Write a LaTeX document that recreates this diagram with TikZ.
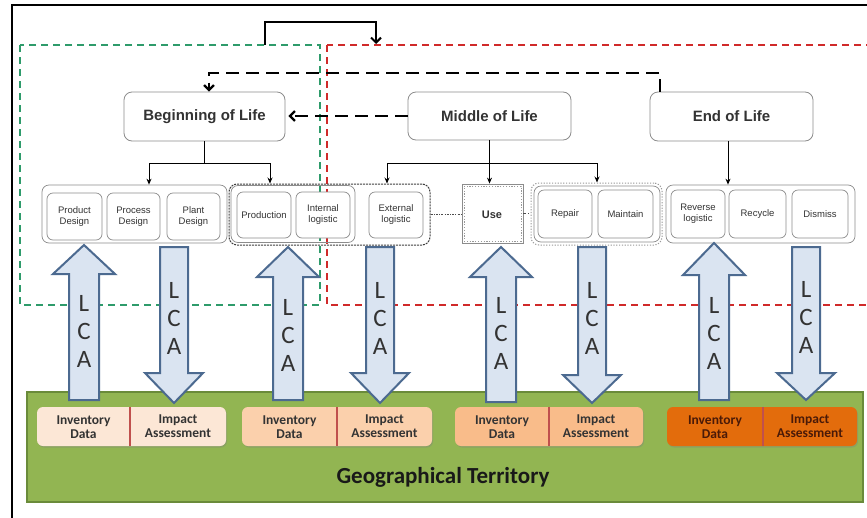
\documentclass[tikz,border=0pt]{standalone}
\usepackage{fontspec}
\setmainfont{Liberation Sans}
\newfontfamily\calfont{Carlito}
\usetikzlibrary{arrows.meta,shadows}
\definecolor{txtgray}{HTML}{333333}
\definecolor{boxgray}{HTML}{8C8C8C}
\definecolor{lcafill}{HTML}{DAE4F1}
\definecolor{lcaline}{HTML}{4C6A90}
\definecolor{terrfill}{HTML}{92B552}
\definecolor{terrline}{HTML}{6A8B3A}
\definecolor{peachA}{HTML}{FCE7D6}
\definecolor{peachB}{HTML}{FBD0AC}
\definecolor{peachC}{HTML}{F9BC8A}
\definecolor{orangeD}{HTML}{E36C0C}
\definecolor{divred}{HTML}{C0504D}
\definecolor{regiongreen}{HTML}{2E9B6B}
\definecolor{regionred}{HTML}{D02A2A}
\definecolor{maroon}{HTML}{4A1A08}
\newcommand\lcaup[4]{\draw[lca] (#1-15,#4) -- (#1-15,#3) -- (#1-31,#3) -- (#1,#2) -- (#1+31,#3) -- (#1+15,#3) -- (#1+15,#4) -- cycle;}
\newcommand\lcadown[4]{\draw[lca] (#1-14,#2) -- (#1-14,#3) -- (#1-29,#3) -- (#1,#4) -- (#1+29,#3) -- (#1+14,#3) -- (#1+14,#2) -- cycle;}
\begin{document}
\begin{tikzpicture}[x=1pt,y=-1pt,
  phase/.style={draw=boxgray, rounded corners=8pt, line width=0.8pt, fill=white, text=txtgray,
    font=\fontsize{15}{18}\selectfont\bfseries, inner sep=0pt},
  sub/.style={draw=boxgray, rounded corners=6pt, line width=0.7pt, fill=white, text=txtgray,
    font=\fontsize{9.5}{11}\selectfont, align=center, inner sep=0pt},
  grp/.style={draw=boxgray, rounded corners=7pt, line width=0.7pt, inner sep=0pt},
  dgrp/.style={draw=black!75, dash pattern=on 2pt off 1pt, rounded corners=8pt, line width=1pt, inner sep=0pt},
  ogrp/.style={draw=black!40, dash pattern=on 1.2pt off 1.6pt, rounded corners=8pt, line width=1pt, inner sep=0pt},
  arr/.style={draw=black, line width=0.9pt, -{Stealth[length=6pt,width=5pt]}},
  dasharr/.style={draw=black, line width=2.2pt, dash pattern=on 13pt off 7pt, -{Straight Barb[length=5pt,width=10pt]}},
  looparr/.style={draw=black, line width=2pt, -{Straight Barb[length=5pt,width=10pt]}},
  lca/.style={draw=lcaline, line width=2pt, fill=lcafill, line join=miter},
  lcatxt/.style={font=\calfont\fontsize{25}{28}\selectfont, text=txtgray, align=center, inner sep=0pt},
  dbox/.style={rounded corners=6pt, inner sep=0pt, drop shadow={opacity=0.35, shadow xshift=1pt, shadow yshift=-1.5pt}},
  dtxt/.style={font=\calfont\bfseries\fontsize{13.5}{14.5}\selectfont, text=txtgray, align=center, inner sep=0pt},
  divider/.style={draw=divred, line width=1.3pt}]
\clip (0,0) rectangle (867,517);
\fill[white] (0,0) rectangle (867,517);
% outer frame
\draw[line width=2pt] (12,525) -- (12,5) -- (875,5);
% regions
\draw[regiongreen, line width=1.4pt, dash pattern=on 7pt off 5pt] (20,45) rectangle (320,305);
\draw[regionred, line width=1.4pt, dash pattern=on 7pt off 5pt] (327,45) rectangle (880,305);
% top loop
\coordinate (gtop) at (265,45);
\coordinate (rtop) at (376,44);
\draw[looparr] (gtop) -- (265,22) -- (376,22) -- (rtop);
% territory
\node[draw=terrline, fill=terrfill, line width=1.2pt, minimum width=836pt, minimum height=110pt, inner sep=0pt] (terr) at (445,447) {};
\node[font=\calfont\bfseries\fontsize{23}{25}\selectfont, text=black!90] (geo) at (443,477) {Geographical Territory};
% phases
\node[phase, minimum width=161pt, minimum height=49pt] (bol) at (204.5,116.5) {Beginning of Life};
\node[phase, minimum width=163pt, minimum height=48pt] (mol) at (489.5,116) {Middle of Life};
\node[phase, minimum width=163pt, minimum height=49pt] (eol) at (731.5,116.5) {End of Life};
% groups
\node[grp, minimum width=185pt, minimum height=58pt] (g1) at (134.5,214) {};
\node[grp, minimum width=124pt, minimum height=57pt] (g2) at (293,214) {};
\node[dgrp, minimum width=201pt, minimum height=61pt] (g2d) at (329.5,214.5) {};
\node[draw=boxgray, line width=0.8pt, minimum width=61pt, minimum height=59pt, inner sep=0pt] (usebox) at (492.5,213.5) {};
\node[draw=black!40, dash pattern=on 1.2pt off 1.6pt, line width=1pt, minimum width=57pt, minimum height=55pt, inner sep=0pt] (usedot) at (492.5,213.5) {};
\node[grp, minimum width=126pt, minimum height=56pt] (g3) at (597,214) {};
\node[ogrp, minimum width=131pt, minimum height=62pt] (g3d) at (596.5,214) {};
\node[grp, minimum width=189pt, minimum height=58pt] (g4) at (760.5,214) {};
% sub boxes
\node[sub, minimum width=55pt, minimum height=47pt] (pd) at (74.5,216.5) {Product\\Design};
\node[sub, minimum width=53pt, minimum height=47pt] (prd) at (133.5,216.5) {Process\\Design};
\node[sub, minimum width=53pt, minimum height=47pt] (pld) at (193.5,216.5) {Plant\\Design};
\node[sub, minimum width=54pt, minimum height=46pt] (prod) at (264,215) {Production};
\node[sub, minimum width=54pt, minimum height=46pt] (intl) at (323,215) {Internal\\logistic};
\node[sub, minimum width=54pt, minimum height=46pt] (extl) at (396,215) {External\\logistic};
\node[text=txtgray, font=\fontsize{11}{13}\selectfont\bfseries] (use) at (492,215) {Use};
\node[sub, minimum width=54pt, minimum height=48pt] (rep) at (565,214) {Repair};
\node[sub, minimum width=55pt, minimum height=48pt] (mnt) at (625.5,214) {Maintain};
\node[sub, minimum width=54pt, minimum height=48pt] (rev) at (698,214) {Reverse\\logistic};
\node[sub, minimum width=57pt, minimum height=48pt] (rec) at (757.5,214) {Recycle};
\node[sub, minimum width=56pt, minimum height=48pt] (dis) at (820,214) {Dismiss};
% links between groups
\draw[draw=black!70, line width=1.1pt, dash pattern=on 2pt off 1.3pt on 0.8pt off 1.3pt] (g2d.east) -- (g2d.east -| usebox.west);
\draw[draw=black!70, line width=1.1pt, dash pattern=on 3pt off 2pt on 1pt off 2pt] (usebox.east) -- (usebox.east -| g3d.west);
% connectors
\draw[arr] (bol.south) -- ++(0,22) -| (149,0 |- g1.north);
\draw[arr] (bol.south) -- ++(0,22) -| (270,0 |- g2d.north);
\draw[arr] (mol.south) -- (mol.south |- usebox.north);
\draw[arr] (mol.south) -- ++(0,23) -| (387,0 |- g2d.north);
\draw[arr] (mol.south) -- ++(0,23) -| (597,0 |- g3d.north);
\draw[arr] ([xshift=-3.5pt]eol.south) -- ([xshift=-3.5pt]eol.south |- g4.north);
% dashed feedback
\draw[dasharr] ([xshift=-71.5pt]eol.north) -- ++(0,-19) -| ([xshift=4.5pt]bol.north);
\draw[dasharr, shorten >=3pt] (mol.west) -- (mol.west -| bol.east);
% data boxes
\node[dbox, fill=peachA, minimum width=189pt, minimum height=39pt] (d1) at (131.5,426.5) {};
\node[dbox, fill=peachB, minimum width=190pt, minimum height=39pt] (d2) at (337,426.5) {};
\node[dbox, fill=peachC, minimum width=188pt, minimum height=39pt] (d3) at (549,426.5) {};
\node[dbox, fill=orangeD, minimum width=190pt, minimum height=39pt] (d4) at (762,426.5) {};
\draw[divider] (130,0 |- d1.north) -- (130,0 |- d1.south);
\draw[divider] (337,0 |- d2.north) -- (337,0 |- d2.south);
\draw[divider] (549,0 |- d3.north) -- (549,0 |- d3.south);
\draw[divider] (763,0 |- d4.north) -- (763,0 |- d4.south);
\node[dtxt] (inv1) at (83.5,427) {Inventory\\Data};
\node[dtxt] (imp1) at (178,426) {Impact\\Assessment};
\node[dtxt] (inv2) at (289.5,427) {Inventory\\Data};
\node[dtxt] (imp2) at (384.5,426) {Impact\\Assessment};
\node[dtxt] (inv3) at (502,427) {Inventory\\Data};
\node[dtxt] (imp3) at (596,426) {Impact\\Assessment};
\node[dtxt, text=maroon] (inv4) at (715,427) {Inventory\\Data};
\node[dtxt, text=maroon] (imp4) at (810,426) {Impact\\Assessment};
% LCA arrows
\lcaup{84}{245}{274}{400}
\lcadown{174}{247}{373}{403}
\lcaup{288}{247}{277}{400}
\lcadown{380}{247}{373}{403}
\lcaup{501}{247}{277}{402}
\lcadown{592}{247}{375}{403}
\lcaup{714}{243}{275}{400}
\lcadown{806}{247}{373}{400}
\node[lcatxt] (a1) at (84,331) {L\\C\\A};
\node[lcatxt] (a2) at (174,318) {L\\C\\A};
\node[lcatxt] (a3) at (288,335) {L\\C\\A};
\node[lcatxt] (a4) at (380,318) {L\\C\\A};
\node[lcatxt] (a5) at (501,333) {L\\C\\A};
\node[lcatxt] (a6) at (592,318) {L\\C\\A};
\node[lcatxt] (a7) at (714,333) {L\\C\\A};
\node[lcatxt] (a8) at (806,317) {L\\C\\A};
\end{tikzpicture}
\end{document}
